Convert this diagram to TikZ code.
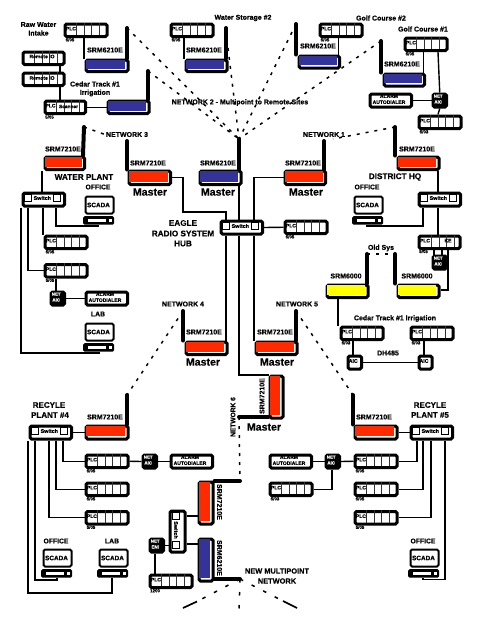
\documentclass[tikz,border=0pt]{standalone}
\usepackage{fontspec}
\setmainfont{Liberation Sans}[BoldFeatures={FakeBold=0.5}]
\newcounter{lbc}
\tikzset{
  wire/.style={line width=1.4pt},
  frm/.style={draw,line width=3pt,rounded corners=1.5pt,inner sep=0pt,fill=white,anchor=north west},
  monitorframe/.style={frm,line width=2pt},
  darkbox/.style={frm,fill=black},
  ant/.style={line width=4pt,line cap=round},
  radiolink/.style={line width=1.5pt,dash pattern=on 3pt off 6pt},
  fanlink/.style={line width=1.5pt,dash pattern=on 3.5pt off 9.5pt},
  cell/.style={line width=0.9pt,black!80},
  txt/.style={inner sep=0pt,font=\bfseries},
}
\newcommand{\lab}[5][]{\stepcounter{lbc}\node[txt,#1] (lb\thelbc) at (#2,#3) {\fontsize{#4}{#4}\selectfont #5};}
\newcommand{\bx}[6][frm]{\node[#1,minimum width={(#5-#3-3)*1pt},minimum height={(#6-#4-3)*1pt}] (#2) at ({#3+1.5},{#4+1.5}) {};}
% PLC rack: name, x, y, sub-label
\newcommand{\cells}[2]{\foreach \dd in {14.7,22.3,29.7,37}{\draw[cell] ({#1+\dd},{#2+1.5}) -- ({#1+\dd},{#2+14});}}
\newcommand{\plc}[4]{\bx{#1}{#2}{#3}{{#2+45}}{{#3+15.5}}\cells{#2}{#3}\lab{{#2+8.9}}{{#3+7.7}}{5}{PLC}\lab{{#2+8}}{{#3+18.8}}{4.4}{#4}}
% switch
\newcommand{\swbox}[3]{\bx{#1}{#2}{#3}{{#2+44.5}}{{#3+16}}%
  \draw[line width=.7pt,fill=white] ({#2+4.5},{#3+4.5}) rectangle ({#2+11.5},{#3+11.5});%
  \draw[line width=.7pt,fill=white] ({#2+33},{#3+4.5}) rectangle ({#2+40},{#3+11.5});%
  \lab{{#2+22.3}}{{#3+8}}{5.4}{Switch}}
% radio: name x1 y1 x2 y2 colour
\newcommand{\radio}[6]{\bx{#1}{#2}{#3}{#4}{#5}\fill[#6] ({#2+2.8},{#3+2.8}) rectangle ({#4-2.8},{#5-2.8});}
% SCADA: name x y
\newcommand{\scada}[3]{\bx[monitorframe]{#1m}{#2}{#3}{{#2+31}}{{#3+20}}\lab{{#2+15.5}}{{#3+11}}{6.4}{SCADA}%
  \node[fill=black,rounded corners=1.5pt,inner sep=0pt,minimum width=31pt,minimum height=8.5pt,anchor=north west] (#1) at (#2,{#3+22}) {};%
  \fill[white] ({#2+5},{#3+24.6}) rectangle ({#2+23},{#3+27.8});%
  \fill[white] ({#2+25.5},{#3+24.6}) rectangle ({#2+28.5},{#3+27.8});}
\newcommand{\alarm}[3]{\bx{#1}{#2}{#3}{{#2+44.5}}{{#3+16}}\lab{{#2+22}}{{#3+5.2}}{5}{ALARM}\lab{{#2+22}}{{#3+11.2}}{5}{AUTODIALER}}
\newcommand{\netbox}[5]{\bx[darkbox]{#1}{#2}{#3}{{#2+16.5}}{{#3+16}}\lab[text=white]{{#2+8.2}}{{#3+5.2}}{4.4}{#4}\lab[text=white]{{#2+8.2}}{{#3+11}}{4.4}{#5}}
\definecolor{rd}{HTML}{FF2A00}
\definecolor{bl}{HTML}{333399}
\definecolor{yl}{HTML}{FFFF00}
\begin{document}
\begin{tikzpicture}[x=1pt,y=-1pt]
\useasboundingbox (0,0) rectangle (480,622);
% ---- named free ends
\coordinate (a1) at (127,28); \coordinate (a2) at (226,28); \coordinate (a2d) at (228,48); \coordinate (a3) at (296,24);
\coordinate (a4) at (381,41); \coordinate (a5) at (148,71); \coordinate (ah) at (239,139);
\coordinate (a7) at (84,127); \coordinate (a8) at (127,141); \coordinate (a9) at (324,141);
\coordinate (a10) at (395,127); \coordinate (a11) at (183,311); \coordinate (a12) at (296,311);
\coordinate (a13) at (127,395); \coordinate (a14) at (353,395);
\coordinate (a15) at (367,254); \coordinate (a16) at (395,254);
\coordinate (a17) at (239,417); \coordinate (a18) at (240,481); \coordinate (a19) at (240,579);
\coordinate (n3) at (105,134.5); \coordinate (n1) at (333,139);
\coordinate (f0) at (239,610); \coordinate (f1) at (197,601.5); \coordinate (f1b) at (183,608);
\coordinate (f2) at (283,601); \coordinate (f2b) at (297,608);
% dashed radio links
\foreach \e in {a1,a5,a2d,a3,a4}{\draw[radiolink] (\e) -- (ah);}
\draw[radiolink] (a7) -- (n3);
\draw[radiolink] (a10) -- (n1);
\draw[radiolink] (a15) -- (a16);
\draw[radiolink] (a11) -- (a13);
\draw[radiolink] (a12) -- (a14);
\draw[radiolink] (a17) -- (a18);
\draw[fanlink] (a19) -- (f0);
\draw[fanlink] (a19) -- (f1); \draw[line width=1.7pt] (f1) -- (f1b);
\draw[fanlink] (a19) -- (f2); \draw[line width=1.7pt] (f2) -- (f2b);
% Raw water
\plc{p1}{62}{21}{5/05}
\radio{r1}{83}{57}{128}{71.5}{bl}
\draw[ant] (a1) -- (127,0 |- r1.north);
\lab{105}{50}{7}{SRM6210E}
\lab{38.5}{24.5}{7}{Raw Water}\lab{38.5}{33}{7}{Intake}
\draw[wire] (84,0 |- p1.south) -- (84,0 |- r1.north);
% storage
\plc{p2}{168}{21}{5/05}
\radio{r2}{183}{57}{227}{71.5}{bl}
\draw[ant] (a2) -- (226,0 |- r2.north);
\lab{204}{50}{7}{SRM6210E}
\lab{243}{18}{7}{Water Storage \#2}
\draw[wire] (184,0 |- p2.south) -- (184,0 |- r2.north);
% golf 2
\plc{p3}{317}{21}{5/05}
\radio{r3}{296}{53}{339.5}{68}{bl}
\draw[ant] (a3) -- (296,0 |- r3.north);
\lab{318}{46}{7}{SRM6210E}
\lab{381}{18}{7}{Golf Course \#2}
\draw[wire] (338.5,0 |- p3.south) -- (338.5,0 |- r3.north);
% golf 1
\plc{p4}{402}{35}{5/05}
\radio{r4}{381}{71}{424.5}{86}{bl}
\draw[ant] (a4) -- (381,0 |- r4.north);
\lab{402}{64}{7}{SRM6210E}
\lab{423}{29}{7}{Golf Course \#1}
\draw[wire] (423.5,0 |- p4.south) -- (423.5,0 |- r4.north);
\netbox{n4}{430}{91}{NET}{AIC}
\alarm{al4}{367}{91}
\plc{p5}{416}{113}{5/03}
\draw[wire] (al4.east) -- (n4.west);
\draw[wire] (438,0 |- p4.south) -- (n4.north);
\draw[wire] (n4.south) -- (438,0 |- p5.north);
% Cedar left
\bx{io1}{20}{49}{64}{64.5}\cells{20}{49}\lab{42}{56.5}{5}{Remote IO}
\bx{io2}{20}{70}{64}{85.5}\cells{20}{70}\lab{42}{78}{5}{Remote IO}
\bx{p6}{42}{98}{85.5}{113.5}\cells{42}{98}
\lab{50.5}{105.7}{5}{PLC}\lab{68.5}{106.5}{4.8}{Scanner}\lab{49.5}{117}{4.4}{5/05}
\radio{r6}{105}{98}{149}{113.5}{bl}
\draw[ant] (a5) -- (148,0 |- r6.north);
\lab{95}{84}{7}{Cedar Track \#1}\lab{95}{93}{7}{Irrigation}
\draw[wire] (p6.east) -- (r6.west);
\draw[wire] (60,0 |- io1.south) -- (60,0 |- io2.north);
\draw[wire] (60,0 |- io2.south) -- (60,0 |- p6.north);
\lab{240}{102.5}{7}{NETWORK 2 - Multipoint to Remote Sites}
% ---- hub row
\radio{rL}{126}{168}{170.5}{184.5}{rd}
\draw[ant] (a8) -- (127,0 |- rL.north);
\lab{148}{163}{7}{SRM7210E}\lab{150}{192}{10.6}{Master}
\lab{127}{134.5}{7}{NETWORK 3}
\radio{rH}{197}{168}{241}{184.5}{bl}
\draw[ant] (ah) -- (239,0 |- rH.north);
\lab{218}{163}{7}{SRM6210E}\lab{218}{192}{10.6}{Master}
\radio{rR}{282}{168}{325.5}{184.5}{rd}
\draw[ant] (a9) -- (324,0 |- rR.north);
\lab{303}{163}{7}{SRM7210E}\lab{306}{192}{10.6}{Master}
\lab{324}{134.5}{7}{NETWORK 1}
\swbox{hub}{218}{218}
\lab{183}{223}{8.2}{EAGLE}\lab{183}{233.5}{8.2}{RADIO SYSTEM}\lab{183}{243.5}{8.2}{HUB}
\plc{p7}{282}{218}{5/05}
\draw[wire] (p7.west) -- (hub.east);
\draw[wire] (rL.east) -- (183,0 |- rL.east) -- (183,212) -- (226,212) -- (226,0 |- hub.north);
\draw[wire] (rR.west) -- (254,0 |- rR.west) -- (254,0 |- hub.north);
\draw[wire] (239,0 |- rH.south) -- (239,0 |- hub.north);
% ---- water plant
\radio{rW}{42}{154}{84.5}{169.5}{rd}
\draw[ant] (a7) -- (83,0 |- rW.north);
\lab{63}{149}{7}{SRM7210E}
\lab{84}{177}{8.2}{WATER PLANT}\lab{98}{187}{6.8}{OFFICE}
\scada{sW}{83}{194}
\swbox{sw1}{20}{190}
\plc{p8}{42}{233}{5/05}
\plc{p9}{42}{261.5}{5/05}
\netbox{n9}{48}{289}{NET}{AIC}
\alarm{al9}{83}{289}
\lab{98}{314}{6.8}{LAB}
\scada{sL}{83}{321}
\draw[wire] (42,0 |- rW.south) -- (42,0 |- sw1.north);
\draw[wire] (43,0 |- sw1.south) -- (43,0 |- p8.north);
\draw[wire] (56,0 |- sw1.south) -- (56,226) -- (98,226) -- (98,0 |- sW.south);
\draw[wire] (28,0 |- sw1.south) -- (28,0 |- p9.west) -- (p9.west);
\draw[wire] (21,0 |- sw1.south) -- (21,353) -- (99,353) -- (99,0 |- sL.south);
\draw[wire] (56,0 |- p9.south) -- (56,0 |- n9.north);
\draw[wire] (n9.east) -- (al9.west);
% ---- district HQ
\radio{rD}{395}{154}{439}{169.5}{rd}
\draw[ant] (a10) -- (395,0 |- rD.north);
\lab{417}{149}{7}{SRM7210E}
\lab{395}{177}{8.2}{DISTRICT HQ}\lab{367}{187}{6.8}{OFFICE}
\scada{sD}{352}{194}
\swbox{sw2}{416}{190}
\bx{p10}{416}{233}{460}{248.5}\cells{417}{233}
\lab{425}{240.7}{5}{PLC}\lab{448}{240.7}{5}{KE}\lab{423.5}{251.5}{4.4}{5/05}
\netbox{n10}{430}{253}{NET}{AIC}
\draw[wire] (438,0 |- rD.south) -- (438,0 |- sw2.north);
\draw[wire] (438,0 |- sw2.south) -- (438,0 |- p10.north);
\draw[wire] (423,0 |- sw2.south) -- (423,226) -- (367,226) -- (367,0 |- sD.south);
\draw[wire] (434,0 |- p10.south) -- (434,0 |- n10.north);
\draw[wire] (442,0 |- p10.south) -- (442,0 |- n10.north);
% old sys
\radio{rY1}{324}{282}{368}{297.5}{yl}
\radio{rY2}{395}{282}{439}{297.5}{yl}
\draw[ant] (a15) -- (367,0 |- rY1.north);
\draw[ant] (a16) -- (395,0 |- rY2.north);
\lab{346}{276}{7}{SRM6000}\lab{417}{276}{7}{SRM6000}
\lab{381}{248}{7}{Old Sys}
\draw[wire] (448,0 |- p10.south) -- (448,290) -- (rY2.east |- 0,290);
\lab{395}{318.5}{7}{Cedar Track \#1 Irrigation}
\plc{p11}{338}{324}{5/03}
\plc{p12}{408}{324}{5/03}
\bx{ai1}{345}{353}{361.5}{369}\lab{353.2}{361}{5.2}{AIC}
\bx{ai2}{416}{353}{432}{369}\lab{424}{361}{5.2}{AIC}
\lab{388}{353}{7}{DH485}
\draw[wire] (338,0 |- rY1.south) -- (338,0 |- p11.north);
\draw[wire] (353,0 |- p11.south) -- (353,0 |- ai1.north);
\draw[wire] (424,0 |- p12.south) -- (424,0 |- ai2.north);
\draw[wire] (ai1.east) -- (ai2.west);
% ---- networks 4,5,6
\radio{r40}{183}{339}{227}{354.5}{rd}
\draw[ant] (a11) -- (183,0 |- r40.north);
\lab{204}{332}{7}{SRM7210E}\lab{203}{362}{10.6}{Master}
\lab{183}{304}{7}{NETWORK 4}
\radio{r50}{253}{339}{297}{354.5}{rd}
\draw[ant] (a12) -- (296,0 |- r50.north);
\lab{275}{332}{7}{SRM7210E}\lab{277}{362}{10.6}{Master}
\lab{297}{304}{7}{NETWORK 5}
\draw[wire] (226,0 |- hub.south) -- (226,0 |- r40.north);
\draw[wire] (254,0 |- hub.south) -- (254,0 |- r50.north);
\radio{r60}{267}{373}{283}{418}{rd}
\draw[ant] (a17) -- (r60.south west |- a17);
\lab[rotate=90]{262}{396}{7}{SRM7210E}\lab{264}{427}{10.6}{Master}
\lab[rotate=90]{233}{417}{6.6}{NETWORK 6}
\draw[wire] (239,0 |- hub.south) -- (239,375) -- (r60.west |- 0,375);
% ---- recycle 4
\radio{r4p}{83}{423}{128}{439}{rd}
\draw[ant] (a13) -- (127,0 |- r4p.north);
\lab{105}{417}{7}{SRM7210E}
\lab{49}{405}{8}{RECYLE}\lab{50}{415}{8}{PLANT \#4}
\swbox{sw4}{27}{423}
\draw[wire] (sw4.east) -- (r4p.west);
\plc{p41}{83}{452}{5/05}
\plc{p42}{83}{480}{5/05}
\plc{p43}{83}{508.5}{5/05}
\netbox{n41}{140}{452}{NET}{AIC}
\alarm{al41}{168}{452}
\draw[wire] (p41.east) -- (n41.west);
\draw[wire] (n41.east) -- (al41.west);
\draw[wire] (63,0 |- sw4.south) -- (63,0 |- p41.west) -- (p41.west);
\draw[wire] (56,0 |- sw4.south) -- (56,0 |- p42.west) -- (p42.west);
\draw[wire] (49,0 |- sw4.south) -- (49,0 |- p43.west) -- (p43.west);
\lab{56}{541}{6.8}{OFFICE}\lab{112}{541}{6.8}{LAB}
\scada{s41}{41}{547}
\scada{s42}{97}{547}
\draw[wire] (35,0 |- sw4.south) -- (35,580) -- (57,580) -- (57,0 |- s41.south);
\draw[wire] (28,0 |- sw4.south) -- (28,593) -- (112,593) -- (112,0 |- s42.south);
% ---- recycle 5
\radio{r5p}{352}{423}{397}{439}{rd}
\draw[ant] (a14) -- (353,0 |- r5p.north);
\lab{374}{417}{7}{SRM7210E}
\lab{430}{405}{8}{RECYLE}\lab{430}{415}{8}{PLANT \#5}
\swbox{sw5}{408}{423}
\draw[wire] (r5p.east) -- (sw5.west);
\plc{p51}{352}{452}{5/05}
\plc{p52}{352}{480}{5/05}
\plc{p53}{352}{508.5}{5/05}
\netbox{n51}{323}{452}{NET}{AIC}
\alarm{al51}{267}{452}
\plc{p54}{267}{480}{5/03}
\draw[wire] (al51.east) -- (n51.west);
\draw[wire] (n51.east) -- (p51.west);
\draw[wire] (p54.east) -- (332,0 |- p54.east) -- (332,0 |- n51.south);
\draw[wire] (417,0 |- sw5.south) -- (417,0 |- p51.east) -- (p51.east);
\draw[wire] (423,0 |- sw5.south) -- (423,0 |- p52.east) -- (p52.east);
\draw[wire] (431,0 |- sw5.south) -- (431,0 |- p53.east) -- (p53.east);
\lab{423}{541}{6.8}{OFFICE}
\scada{s51}{408}{547}
\draw[wire] (445,0 |- sw5.south) -- (445,579.5) -- (423,579.5) -- (423,0 |- s51.south);
% ---- new multipoint
\radio{r61}{196}{479}{213}{524}{rd}
\draw[ant] (a18) -- (r61.north east |- a18);
\lab[rotate=-90]{219.5}{502}{7}{SRM7210E}
\radio{r62}{196}{536}{213}{581}{bl}
\draw[ant] (a19) -- (r62.south east |- a19);
\lab[rotate=-90]{219.5}{558}{7}{SRM6210E}
\bx{sw6}{167}{508}{185}{552}
\draw[line width=.7pt,fill=white] (172.5,512.5) rectangle (179.5,519.5);
\draw[line width=.7pt,fill=white] (172.5,541) rectangle (179.5,548);
\lab[rotate=-90]{176}{530}{5.4}{Switch}
\draw[wire] (sw6.east |- 0,516) -- (r61.west |- 0,516);
\draw[wire] (sw6.east |- 0,544) -- (r62.west |- 0,544);
\netbox{n6}{147}{536}{NET}{ENI}
\plc{p6b}{147}{572}{1200}
\draw[wire] (n6.east) -- (sw6.west |- n6.east);
\draw[wire] (155,0 |- n6.south) -- (155,0 |- p6b.north);
\lab{277}{571}{7.4}{NEW MULTIPOINT}\lab{277}{581}{7.4}{NETWORK}
\end{tikzpicture}
\end{document}
